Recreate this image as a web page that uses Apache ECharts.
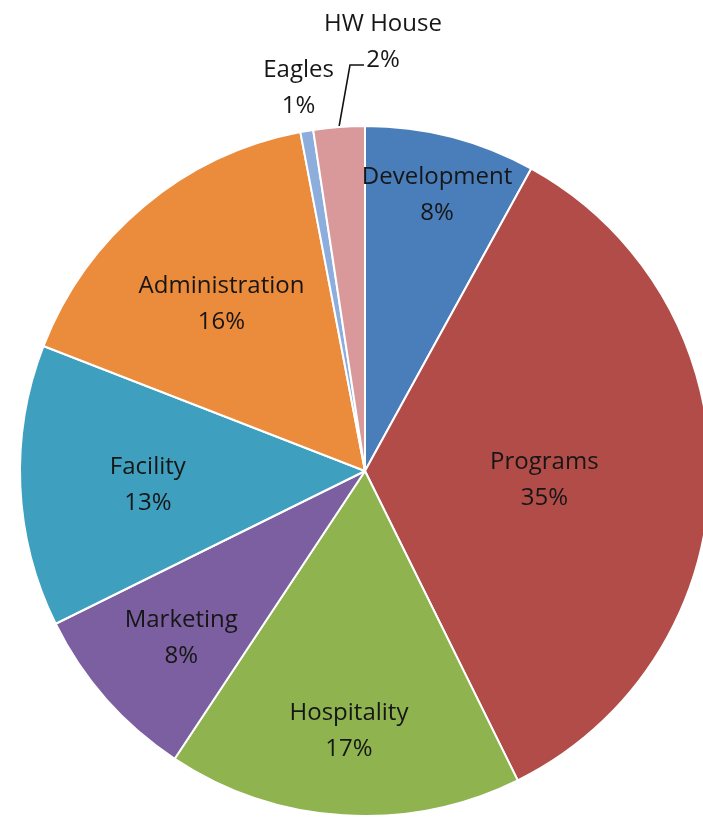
<!DOCTYPE html>
<html><head><meta charset="utf-8">
<script src="https://cdn.jsdelivr.net/npm/echarts@6/dist/echarts.min.js"></script>
<style>html,body{margin:0;padding:0;background:#fff;} #c{width:703px;height:818px;}</style>
</head><body><div id="c"></div>
<script>
// ---- data ----
const categories = ['Development', 'Programs', 'Hospitality', 'Marketing', 'Facility', 'Administration', 'Eagles', 'HW House'];
const values = [8.0, 34.7, 16.6, 8.4, 13.2, 16.1, 0.6, 2.4];

// ---- styles ----
const colors = ['#4A7EBB', '#B24C48', '#8FB34F', '#7B5FA0', '#3E9FBF', '#EB8B3C', '#8DAEDD', '#D9999B'];
const CX = 365, CY = 471, R = 345;
const LABEL_DY = 5; // small vertical nudge of the label ring
// radial position of each inside label, as a fraction of the radius (null = leader-line label)
const labelFrac = [0.84, 0.52, 0.74, 0.71, 0.63, 0.65, 1.14, null];
const font = { fontFamily: 'Open Sans', fontSize: 24, lineHeight: 36, color: '#161616', textBorderWidth: 0 };
const fmt = p => p.name + '\n' + Math.round(p.percent) + '%';
const hwIndex = categories.indexOf('HW House');

const series = [];
series.push({
  type: 'pie', center: [CX, CY], radius: [0, R], startAngle: 90, clockwise: true,
  silent: true, animation: false, emphasis: { disabled: true },
  itemStyle: { borderColor: '#fff', borderWidth: 2 },
  label: { show: false },
  labelLine: { show: false },
  data: categories.map((n, i) => {
    const d = { name: n, value: values[i], itemStyle: { color: colors[i] } };
    if (i === hwIndex) {
      d.label = Object.assign({ show: true, position: 'outside', formatter: fmt }, font);
      d.labelLine = { show: true, length: 60, length2: 12, lineStyle: { color: '#111', width: 1.6 } };
    }
    return d;
  }),
  labelLayout: function (p) {
    if (p.dataIndex !== hwIndex || !p.labelLinePoints) return {};
    const a = p.labelLinePoints[0];
    return {
      x: a[0] + 44, y: a[1] - 85, align: 'center', verticalAlign: 'middle',
      labelLinePoints: [a, [a[0] + 11, a[1] - 62], [a[0] + 25, a[1] - 62]]
    };
  }
});

labelFrac.forEach((f, i) => {
  if (f == null) return;
  const mid = f * R - 3;
  series.push({
    type: 'pie', center: [CX, CY + LABEL_DY], radius: [mid - 5, mid + 5], startAngle: 90, clockwise: true,
    silent: true, animation: false, emphasis: { disabled: true }, z: 5,
    itemStyle: { color: 'rgba(0,0,0,0)', borderWidth: 0 },
    labelLine: { show: false },
    label: Object.assign({ show: false, position: 'inside', formatter: fmt }, font),
    data: categories.map((n, j) => ({ name: n, value: values[j], label: { show: j === i } }))
  });
});

const chart = echarts.init(document.getElementById('c'));
chart.setOption({ backgroundColor: '#fff', animation: false, series: series });
</script>
</body></html>
